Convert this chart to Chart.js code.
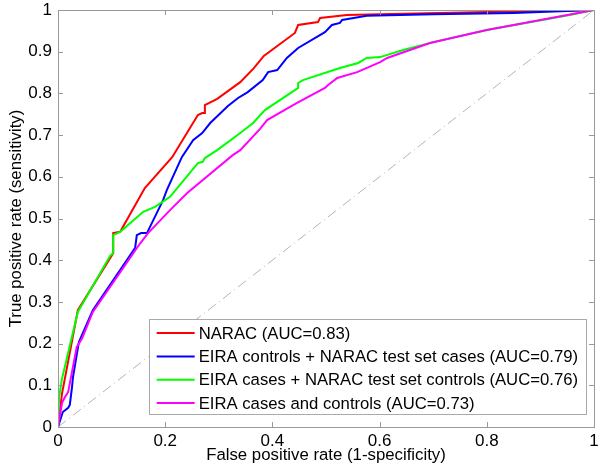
<!DOCTYPE html>
<html>
<head>
<meta charset="utf-8">
<script src="https://cdn.jsdelivr.net/npm/chart.js@4"></script>
<style>
html,body{margin:0;padding:0;background:#fff;}
#wrap{width:600px;height:472px;position:relative;}
</style>
</head>
<body>
<div id="wrap"><canvas id="c"></canvas></div>
<script>
// ---- data ----
const labels = [
  'NARAC (AUC=0.83)',
  'EIRA controls + NARAC test set cases (AUC=0.79)',
  'EIRA cases + NARAC test set controls (AUC=0.76)',
  'EIRA cases and controls (AUC=0.73)'
];
const colors = ['#ff0000', '#0000ff', '#00ff00', '#ff00ff'];

const naracFpr = [0, 0.0075, 0.037, 0.103, 0.103, 0.116, 0.162, 0.213, 0.261, 0.269, 0.274, 0.274, 0.297, 0.340, 0.365, 0.384, 0.442, 0.448, 0.485, 0.489, 0.539, 0.6, 0.8, 1];
const naracTpr = [0, 0.08, 0.28, 0.417, 0.465, 0.468, 0.573, 0.647, 0.748, 0.753, 0.753, 0.772, 0.787, 0.827, 0.86, 0.89, 0.945, 0.964, 0.971, 0.981, 0.988, 0.99, 0.995, 1];

const eiraCtrlFpr = [0, 0.009, 0.019, 0.022, 0.026, 0.028, 0.039, 0.065, 0.144, 0.147, 0.155, 0.166, 0.196, 0.203, 0.231, 0.252, 0.269, 0.284, 0.317, 0.336, 0.354, 0.382, 0.392, 0.409, 0.427, 0.448, 0.498, 0.511, 0.526, 0.530, 0.576, 0.70, 0.85, 1];
const eiraCtrlTpr = [0, 0.036, 0.046, 0.053, 0.094, 0.12, 0.204, 0.28, 0.43, 0.46, 0.465, 0.465, 0.544, 0.568, 0.647, 0.688, 0.705, 0.729, 0.77, 0.789, 0.803, 0.832, 0.851, 0.856, 0.885, 0.909, 0.947, 0.964, 0.969, 0.976, 0.986, 0.99, 0.993, 1];

const eiraCaseFpr = [0, 0.002, 0.007, 0.037, 0.097, 0.103, 0.103, 0.116, 0.159, 0.181, 0.209, 0.261, 0.27, 0.274, 0.297, 0.34, 0.364, 0.386, 0.442, 0.448, 0.448, 0.457, 0.526, 0.56, 0.576, 0.601, 0.644, 0.70, 0.80, 0.955, 1];
const eiraCaseTpr = [0, 0.07, 0.113, 0.276, 0.41, 0.417, 0.46, 0.468, 0.516, 0.528, 0.552, 0.633, 0.636, 0.645, 0.664, 0.705, 0.729, 0.76, 0.808, 0.813, 0.825, 0.832, 0.861, 0.873, 0.885, 0.887, 0.904, 0.923, 0.952, 0.988, 1];

const eiraAllFpr = [0, 0.0075, 0.013, 0.019, 0.035, 0.045, 0.065, 0.153, 0.168, 0.209, 0.241, 0.326, 0.34, 0.377, 0.39, 0.446, 0.498, 0.504, 0.521, 0.558, 0.601, 0.614, 0.694, 0.80, 1];
const eiraAllTpr = [0, 0.058, 0.072, 0.084, 0.192, 0.213, 0.276, 0.44, 0.465, 0.52, 0.561, 0.652, 0.664, 0.715, 0.736, 0.777, 0.813, 0.82, 0.837, 0.851, 0.875, 0.885, 0.921, 0.952, 1];

const diagX = [0, 1];
const diagY = [0, 1];

const xTicks = [0, 0.2, 0.4, 0.6, 0.8, 1];
const yTicks = [0, 0.1, 0.2, 0.3, 0.4, 0.5, 0.6, 0.7, 0.8, 0.9, 1];

// ---- build ----
function pts(xs, ys){ return xs.map((x,i)=>({x:x, y:ys[i]})); }
const series = [
  pts(naracFpr, naracTpr),
  pts(eiraCtrlFpr, eiraCtrlTpr),
  pts(eiraCaseFpr, eiraCaseTpr),
  pts(eiraAllFpr, eiraAllTpr)
];

const datasets = series.map((d,i)=>({
  label: labels[i],
  data: d,
  borderColor: colors[i],
  backgroundColor: colors[i],
  borderWidth: 2,
  pointRadius: 0,
  showLine: true,
  tension: 0,
  order: 4 - i
}));
datasets.push({
  label: 'diag',
  data: pts(diagX, diagY),
  borderColor: '#b4b4b4',
  borderWidth: 1,
  borderDash: [10, 4, 1, 4],
  pointRadius: 0,
  showLine: true,
  order: 10
});

const FONT = 'Liberation Sans, Arial, sans-serif';

function zeroPad(s){ s.paddingTop = 0; s.paddingBottom = 0; s.paddingLeft = 0; s.paddingRight = 0; }

const frame = {
  id: 'frame',
  afterDatasetsDraw(chart){
    const {ctx, chartArea:a, scales} = chart;
    ctx.save();
    ctx.strokeStyle = '#999999';
    ctx.lineWidth = 1;
    const tl = 5;
    ctx.beginPath();
    xTicks.forEach(v=>{
      const px = Math.round(scales.x.getPixelForValue(v)) + 0.5;
      ctx.moveTo(px, a.bottom); ctx.lineTo(px, a.bottom - tl);
      ctx.moveTo(px, a.top); ctx.lineTo(px, a.top + tl);
    });
    yTicks.forEach(v=>{
      const py = Math.round(scales.y.getPixelForValue(v)) + 0.5;
      ctx.moveTo(a.left, py); ctx.lineTo(a.left + tl, py);
      ctx.moveTo(a.right, py); ctx.lineTo(a.right - tl, py);
    });
    ctx.stroke();
    ctx.strokeRect(Math.round(a.left)+0.5, Math.round(a.top)+0.5, Math.round(a.right-a.left), Math.round(a.bottom-a.top));
    ctx.restore();
  },
  afterDraw(chart){
    const {ctx, chartArea:a} = chart;
    ctx.save();
    ctx.font = '16.7px ' + FONT;
    const rowH = 23.3;
    const lineLen = 38, padL = 8, gap = 4, padR = 8;
    let tw = 0;
    labels.forEach(t=>{ tw = Math.max(tw, ctx.measureText(t).width); });
    const w = padL + lineLen + gap + tw + padR;
    const h = 14 + rowH*3 + 11;
    const right = a.right - 8, bottom = a.bottom - 13;
    const left = right - w, top = bottom - h;
    ctx.fillStyle = '#fff';
    ctx.fillRect(left, top, w, h);
    ctx.strokeStyle = '#aaaaaa';
    ctx.lineWidth = 1;
    ctx.strokeRect(Math.round(left)+0.5, Math.round(top)+0.5, Math.round(w), Math.round(h));
    labels.forEach((t,i)=>{
      const cy = top + 14 + i*rowH;
      ctx.strokeStyle = colors[i];
      ctx.lineWidth = 2;
      ctx.beginPath();
      ctx.moveTo(left + padL, cy); ctx.lineTo(left + padL + lineLen, cy);
      ctx.stroke();
      ctx.fillStyle = '#000';
      ctx.textBaseline = 'middle';
      ctx.fillText(t, left + padL + lineLen + gap, cy + 1);
    });
    ctx.restore();
  }
};

new Chart(document.getElementById('c'), {
  type: 'scatter',
  data: { datasets },
  options: {
    responsive: true,
    maintainAspectRatio: false,
    animation: false,
    layout: { padding: { top: 10, right: 6, left: 0, bottom: 0 } },
    plugins: { legend: { display: false }, tooltip: { enabled: false } },
    scales: {
      x: {
        type: 'linear', min: 0, max: 1,
        afterBuildTicks(s){ s.ticks = xTicks.map(v=>({value:v})); },
        afterFit(s){ s.height = 45; zeroPad(s); },
        grid: { display: false, drawTicks: false },
        border: { display: false },
        ticks: { color: '#000', font: { family: FONT, size: 17 }, padding: 4, maxRotation: 0,
                 callback: v => String(v) },
        title: { display: true, text: 'False positive rate (1-specificity)', color: '#000',
                 font: { family: FONT, size: 16.8 }, padding: { top: 0, bottom: 7 } }
      },
      y: {
        type: 'linear', min: 0, max: 1,
        afterBuildTicks(s){ s.ticks = yTicks.map(v=>({value:v})); },
        afterFit(s){ s.width = 58; zeroPad(s); },
        grid: { display: false, drawTicks: false },
        border: { display: false },
        ticks: { color: '#000', font: { family: FONT, size: 17 }, padding: 6,
                 callback: v => String(v) },
        title: { display: true, text: 'True positive rate (sensitivity)', color: '#000',
                 font: { family: FONT, size: 16.8 }, padding: { top: 6, bottom: 0 } }
      }
    }
  },
  plugins: [frame]
});
</script>
</body>
</html>
